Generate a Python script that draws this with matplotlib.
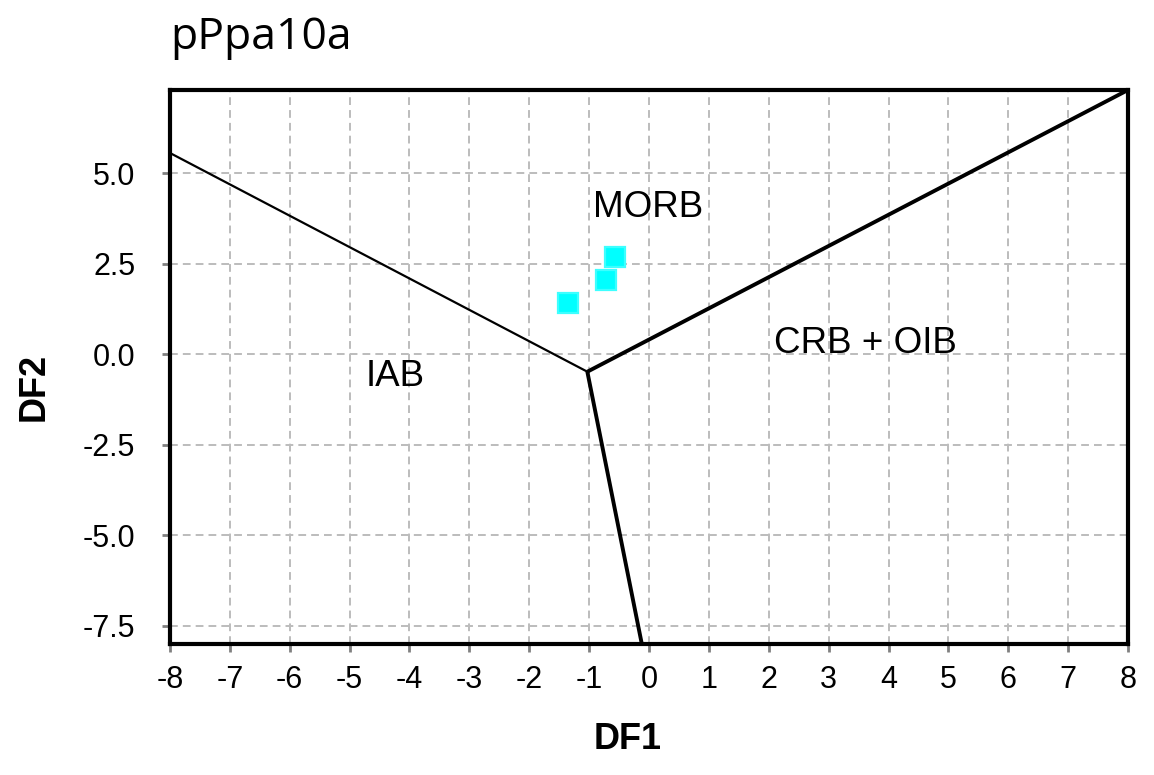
import matplotlib
matplotlib.use("Agg")
import matplotlib.pyplot as plt
import numpy as np

# sample points (DF1, DF2)
df1 = [-1.36, -0.72, -0.56]
df2 = [1.41, 2.04, 2.70]

# field boundaries
vertex = (-1.03, -0.48)
left_end = (-8.0, 5.56)
right_end = (8.0, 7.3)
bottom_end = (-0.12, -8.0)

regions = ["MORB", "IAB", "CRB + OIB"]
region_x = [-0.02, -4.24, 3.62]
region_y = [4.06, -0.6, 0.31]

xticks = np.arange(-8, 9, 1)
yticks = [-7.5, -5.0, -2.5, 0.0, 2.5, 5.0]

plt.rcParams["font.family"] = ["Liberation Sans", "DejaVu Sans"]

fig = plt.figure(figsize=(11.54, 7.75), dpi=100)
ax = fig.add_axes([0.1473, 0.169, 0.8302, 0.7149])

ax.plot([left_end[0], vertex[0]], [left_end[1], vertex[1]], color="black", lw=1.6, zorder=3)
ax.plot([vertex[0], right_end[0]], [vertex[1], right_end[1]], color="black", lw=2.8, zorder=3,
        solid_capstyle="butt")
ax.plot([vertex[0], bottom_end[0]], [vertex[1], bottom_end[1]], color="black", lw=2.8, zorder=3,
        solid_capstyle="butt")

ax.plot(df1, df2, linestyle="none", marker="s", markersize=15, color="#00ffff",
        markeredgecolor="#3dffff", markeredgewidth=1.6, zorder=4)

for name, x, y in zip(regions, region_x, region_y):
    ax.text(x, y, name, fontsize=26.5, ha="center", va="center", zorder=5)

ax.set_xlim(-8, 8)
ax.set_ylim(-8, 7.3)
ax.set_xticks(xticks)
ax.set_xticklabels([str(t) for t in xticks])
ax.set_yticks(yticks)
ax.set_yticklabels([f"{t:.1f}" for t in yticks])
ax.tick_params(labelsize=22, length=6, width=2, color="#808080", direction="out")
ax.tick_params(axis="y", pad=19)
ax.tick_params(axis="x", pad=9)

ax.grid(True, color="#bcbcbc", linestyle=(0, (4, 2.6)), lw=1.4, zorder=1)
ax.set_axisbelow(True)

for sp in ax.spines.values():
    sp.set_linewidth(3)
    sp.set_color("black")

ax.set_xlabel("DF1", fontsize=26, fontweight="bold")
ax.xaxis.set_label_coords(0.478, -0.173)
ax.xaxis.label.set_va("center")
ax.set_ylabel("DF2", fontsize=26, fontweight="bold")
ax.yaxis.set_label_coords(-0.142, 0.464)
ax.yaxis.label.set_va("center")
ax.yaxis.label.set_rotation_mode("anchor")

fig.text(0.1473, 0.937, "pPpa10a", fontsize=32, ha="left", va="baseline",
         family=["Open Sans", "DejaVu Sans"])

fig.savefig("out.png", dpi=100)
